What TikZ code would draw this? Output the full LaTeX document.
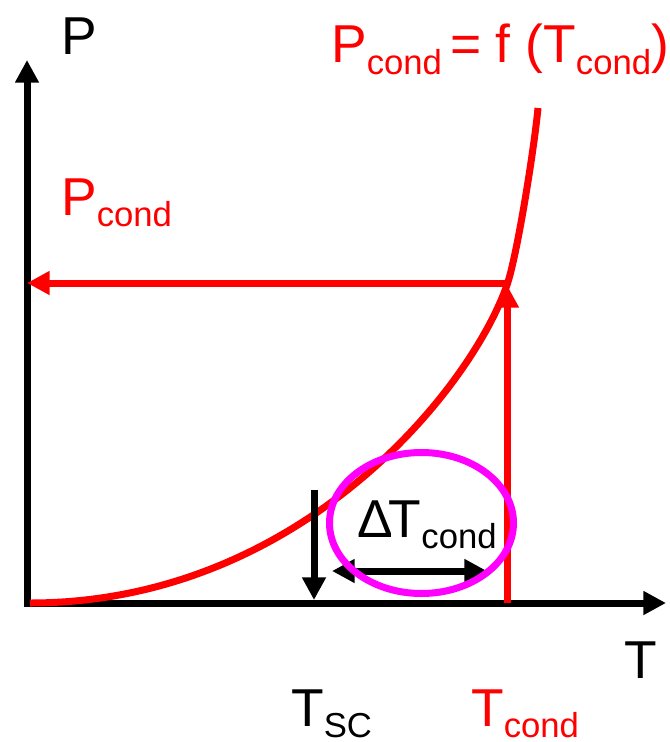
\documentclass[tikz,border=0pt]{standalone}
\usepackage{fontspec}
\setmainfont{Liberation Sans}
\usetikzlibrary{arrows.meta}
\definecolor{pred}{HTML}{FF0000}
\definecolor{pmag}{HTML}{FF00FF}
\newcommand\sbs[1]{\raisebox{-8.5pt}{\fontsize{26}{30}\selectfont #1}}
\tikzset{
  thick7/.style={line width=5.25pt},
  tip/.style={-{Triangle[length=17pt,width=17pt]}},
  dtip/.style={{Triangle[length=17pt,width=17pt]}-{Triangle[length=17pt,width=17pt]}},
  lbl/.style={anchor=base west, inner sep=0pt, font=\fontsize{40}{48}\selectfont},
}
\begin{document}
\begin{tikzpicture}[x=0.75pt,y=-0.75pt]
\useasboundingbox (0,0) rectangle (670,742);
% coordinates
\coordinate (O) at (27,603);
\coordinate (Ytip) at (27,60);
\coordinate (Xtip) at (666,603);
\coordinate (Pl) at (27,283);
\coordinate (Pc) at (507,283);
\coordinate (Tcb) at (507,603);
\coordinate (Tct) at (507,285);
\coordinate (Tsa) at (314,490);
\coordinate (Tsb) at (314,600);
\coordinate (Dl) at (332,571);
\coordinate (Dr) at (487,571);
\coordinate (C0) at (30,603);
\coordinate (C1) at (507,285);
\coordinate (C2) at (538,108);
% axes
\draw[thick7, dtip] (Ytip) -- (O) -- (Xtip);
% curve
\draw[thick7, pred] (C0) .. controls (300,603) and (470.7,389) .. (C1)
                         .. controls (517,256) and (534,150) .. (C2);
% red arrows
\draw[thick7, pred, tip] (Pc) -- (Pl);
\draw[thick7, pred, tip] (Tcb) -- (Tct);
% black arrows
\draw[thick7, tip] (Tsa) -- (Tsb);
\draw[thick7, dtip] (Dl) -- (Dr);
% ellipse
\draw[thick7, pmag] (421.5,523) ellipse [x radius=92, y radius=70.5];
% labels
\node[lbl] (lP) at (61,55) {P};
\node[lbl] (lT) at (624,678) {T};
\node[lbl, text=pred] (lfun) at (331,63) {P\sbs{cond}\hspace{6pt}= f (T\sbs{cond})};
\node[lbl, text=pred] (lPc) at (61,215) {P\sbs{cond}};
\node[lbl] (lDT) at (357,537) {Δ\kern-3pt T\sbs{cond}};
\node[lbl] (lTsc) at (291,726) {T\sbs{SC}};
\node[lbl, text=pred] (lTc) at (471,726) {T\sbs{cond}};
\end{tikzpicture}
\end{document}
